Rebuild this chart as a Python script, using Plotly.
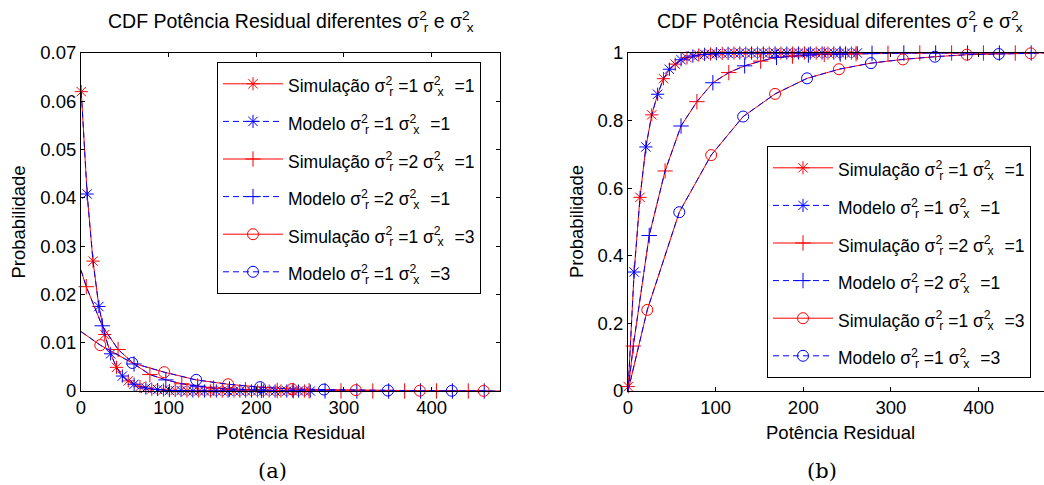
import plotly.graph_objects as go

# ---------------- data ----------------
# series 1: sigma_r^2 = 1, sigma_x^2 = 1
s1_x = [0.3, 7.0, 13.7, 20.4, 27.1, 33.8, 40.5, 47.2, 53.9, 60.6,
        67.3, 74.0, 80.7, 87.4, 94.1, 100.8, 107.5, 114.2, 120.9, 127.6,
        134.3, 141.0, 147.7, 154.4, 161.1, 167.8, 174.5, 181.2, 187.9, 194.6,
        201.3, 208.0, 214.7, 221.4, 228.1, 234.8, 241.5, 248.2, 254.9, 261.6]
s1_pdf = [0.0620, 0.0408, 0.0269, 0.0175, 0.0117, 0.0077, 0.0049, 0.0031, 0.0021, 0.0014,
          0.0009, 0.0006, 0.0004, 0.0003, 0.0002, 0.0001, 0.0001, 0.0001, 0.0, 0.0,
          0.0, 0.0, 0.0, 0.0, 0.0, 0.0, 0.0, 0.0, 0.0, 0.0,
          0.0, 0.0, 0.0, 0.0, 0.0, 0.0, 0.0, 0.0, 0.0, 0.0]
s1_cdf = [0.013, 0.352, 0.573, 0.722, 0.817, 0.878, 0.924, 0.952, 0.967, 0.980,
          0.986, 0.991, 0.994, 0.996, 0.997, 0.998, 0.999, 0.999, 1.0, 1.0,
          1.0, 1.0, 1.0, 1.0, 1.0, 1.0, 1.0, 1.0, 1.0, 1.0,
          1.0, 1.0, 1.0, 1.0, 1.0, 1.0, 1.0, 1.0, 1.0, 1.0]

# series 2: sigma_r^2 = 2, sigma_x^2 = 1
s2_x = [0.0, 6.0, 24.2, 42.3, 60.5, 78.6, 96.8, 115.0, 133.1, 151.3,
        169.4, 187.6, 205.8, 223.9, 242.1, 260.2, 278.4, 296.6, 314.7, 332.9,
        351.0, 369.2, 387.4, 405.5, 423.7, 441.8, 460.0, 478.2]
s2_pdf = [0.0250, 0.0216, 0.0135, 0.0086, 0.0056, 0.0034, 0.0023, 0.0015, 0.0010, 0.0006,
          0.0004, 0.00026, 0.00017, 0.0001, 0.00007, 0.00005, 0.00003, 0.00002, 0.0, 0.0,
          0.0, 0.0, 0.0, 0.0, 0.0, 0.0, 0.0, 0.0]
s2_cdf = [0.0, 0.133, 0.460, 0.651, 0.784, 0.856, 0.912, 0.942, 0.962, 0.976,
          0.987, 0.991, 0.994, 0.996, 0.997, 0.998, 0.999, 0.999, 1.0, 1.0,
          1.0, 1.0, 1.0, 1.0, 1.0, 1.0, 1.0, 1.0]

# series 3: sigma_r^2 = 1, sigma_x^2 = 3
s3_x = [0.0, 22.0, 58.5, 94.9, 131.4, 167.8, 204.3, 240.7, 277.2, 313.6,
        350.1, 386.5, 423.0, 459.4]
s3_pdf = [0.0123, 0.0095, 0.0058, 0.0039, 0.0023, 0.0014, 0.0008, 0.0004, 0.0003, 0.00018,
          0.0001, 0.00006, 0.00004, 0.00002]
s3_cdf = [0.0, 0.240, 0.529, 0.698, 0.812, 0.879, 0.925, 0.952, 0.970, 0.981,
          0.989, 0.995, 0.997, 0.999]

series_params = [("1", "1"), ("2", "1"), ("1", "3")]
series_symbols = ["asterisk-open", "cross-thin-open", "circle-open"]
first_marker = [0, 1, 1]

x_ticks = [0, 100, 200, 300, 400]
pdf_ticks = [0, 0.01, 0.02, 0.03, 0.04, 0.05, 0.06, 0.07]
pdf_tick_text = ["0", "0.01", "0.02", "0.03", "0.04", "0.05", "0.06", "0.07"]
cdf_ticks = [0, 0.2, 0.4, 0.6, 0.8, 1.0]
cdf_tick_text = ["0", "0.2", "0.4", "0.6", "0.8", "1"]

title_text = "CDF Potência Residual diferentes"
xlabel_text = "Potência Residual"
ylabel_text = "Probabilidade"
kind_sim = "Simulação"
kind_mod = "Modelo"

# ---------------- style ----------------
RED = "#ff0000"
BLUE = "#0000ff"
FONT = "Liberation Sans, Arial, sans-serif"
FS = 18.5
TFS = 19.5
LFS = 17.5        # legend text size
LROW = 22         # legend font size used for row height
W, H = 1044, 485
DASH = "6px,4px"


def px_x(p):
    return p / W


def px_y(p):
    return 1 - p / H


def stacked(sub, back=3, after=0):
    if after:
        sub = '<span style="letter-spacing:%spx">%s</span>' % (after, sub)
    return ('σ<sup><span style="letter-spacing:-%spx">2</span></sup><sub>%s</sub>' % (back, sub))


def label(kind, r, x):
    return ('<span style="font-size:%spx">%s %s =%s %s =%s</span>'
            % (LFS, kind, stacked("r"), r, stacked("x", 3, 6), x))


fig = go.Figure()

data_sets = [
    (s1_x, s1_pdf, s1_cdf),
    (s2_x, s2_pdf, s2_cdf),
    (s3_x, s3_pdf, s3_cdf),
]

for panel, (xa, ya) in enumerate([("x", "y"), ("x2", "y2")]):
    for i, (sx, spdf, scdf) in enumerate(data_sets):
        vals = spdf if panel == 0 else scdf
        st = first_marker[i]
        sym = series_symbols[i]
        # simulation (red solid)
        fig.add_trace(go.Scatter(x=sx, y=vals, mode="lines", xaxis=xa, yaxis=ya,
                                 line=dict(color=RED, width=1), showlegend=False,
                                 hoverinfo="skip"))
        fig.add_trace(go.Scatter(x=sx[st::2], y=vals[st::2], mode="markers", xaxis=xa, yaxis=ya,
                                 marker=dict(symbol=sym, size=11, color=RED,
                                             line=dict(color=RED, width=1)),
                                 showlegend=False, cliponaxis=False, hoverinfo="skip"))
        # model (blue dashed)
        fig.add_trace(go.Scatter(x=sx, y=vals, mode="lines", xaxis=xa, yaxis=ya,
                                 line=dict(color=BLUE, width=1, dash=DASH),
                                 showlegend=False, hoverinfo="skip"))
        fig.add_trace(go.Scatter(x=sx[st + 1::2], y=vals[st + 1::2], mode="markers",
                                 xaxis=xa, yaxis=ya,
                                 marker=dict(symbol=sym, size=11, color=BLUE,
                                             line=dict(color=BLUE, width=1)),
                                 showlegend=False, cliponaxis=False, hoverinfo="skip"))
    # legend-only entries
    leg = "legend" if panel == 0 else "legend2"
    for i, (r, x) in enumerate(series_params):
        sym = series_symbols[i]
        for kind, col, dash in [(kind_sim, RED, "solid"), (kind_mod, BLUE, DASH)]:
            fig.add_trace(go.Scatter(x=[None], y=[None], mode="lines+markers", xaxis=xa, yaxis=ya,
                                     name=label(kind, r, x), legend=leg,
                                     legendgroup="%s_%d_%s" % (leg, i, kind),
                                     line=dict(color=col, width=1, dash=dash),
                                     marker=dict(symbol=sym, size=11, color=col,
                                                 line=dict(color=col, width=1))))

axis_common = dict(showline=True, linecolor="black", linewidth=1,
                   ticks="inside", ticklen=4, tickcolor="black", tickwidth=1,
                   showgrid=False, zeroline=False,
                   tickfont=dict(family=FONT, size=FS, color="black"))

legend_common = dict(xanchor="left", yanchor="top",
                     bgcolor="white", bordercolor="black", borderwidth=1,
                     font=dict(family=FONT, size=LROW, color="black"),
                     tracegroupgap=6, itemwidth=60)

fig.update_layout(
    width=W, height=H,
    margin=dict(l=0, r=0, t=0, b=0, autoexpand=False),
    paper_bgcolor="white", plot_bgcolor="white",
    font=dict(family=FONT, size=FS, color="black"),
    xaxis=dict(domain=[px_x(81), px_x(500)], range=[0, 478], tickvals=x_ticks,
               anchor="y", mirror="allticks", **axis_common),
    yaxis=dict(domain=[px_y(391), px_y(53)], range=[0, 0.07], tickvals=pdf_ticks,
               ticktext=pdf_tick_text, anchor="x", mirror="allticks", **axis_common),
    xaxis2=dict(domain=[px_x(628), 1.0], range=[0, 474.6], tickvals=x_ticks,
                anchor="y2", mirror="allticks", **axis_common),
    yaxis2=dict(domain=[px_y(391), px_y(53)], range=[0, 1.0], tickvals=cdf_ticks,
                ticktext=cdf_tick_text, anchor="x2", mirror=False, **axis_common),
    legend=dict(x=px_x(217), y=px_y(62), **legend_common),
    legend2=dict(x=px_x(767), y=px_y(146), **legend_common),
    showlegend=True,
)

ann = []
for cx in [290.5, 840]:
    ann.append(dict(x=px_x(cx), y=px_y(22), xref="paper", yref="paper",
                    text="%s %s e %s" % (title_text, stacked("r"), stacked("x")),
                    showarrow=False, xanchor="center", yanchor="middle",
                    font=dict(family=FONT, size=TFS, color="black")))
    ann.append(dict(x=px_x(cx), y=px_y(432), xref="paper", yref="paper",
                    text=xlabel_text, showarrow=False, xanchor="center", yanchor="middle",
                    font=dict(family=FONT, size=FS, color="black")))
for cx in [18.5, 577]:
    ann.append(dict(x=px_x(cx), y=px_y(222), xref="paper", yref="paper",
                    text=ylabel_text, textangle=-90, showarrow=False,
                    xanchor="center", yanchor="middle",
                    font=dict(family=FONT, size=FS, color="black")))
for cx, t in [(272, "(a)"), (822, "(b)")]:
    ann.append(dict(x=px_x(cx), y=px_y(471), xref="paper", yref="paper",
                    text=t, showarrow=False, xanchor="center", yanchor="middle",
                    font=dict(family="DejaVu Serif, serif", size=21, color="black")))
fig.update_layout(annotations=ann)

fig.write_html("out.html")
